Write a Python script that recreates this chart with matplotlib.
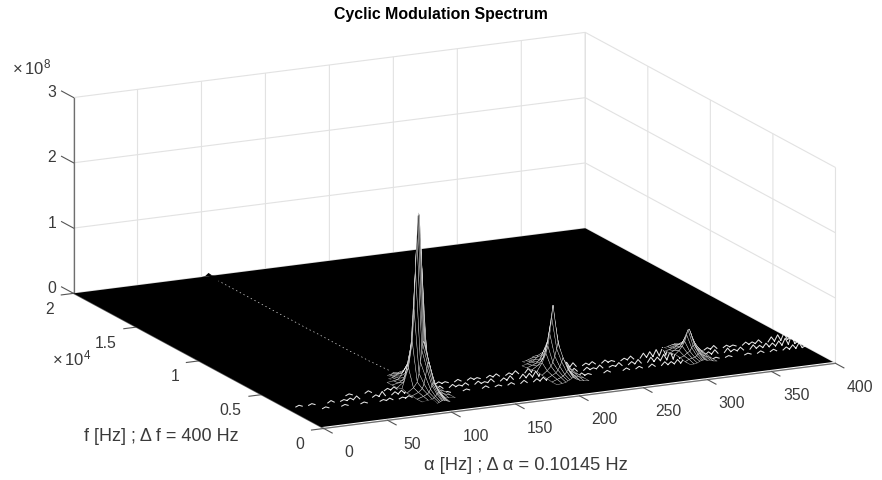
import numpy as np
import matplotlib
matplotlib.use("Agg")
import matplotlib.pyplot as plt
from matplotlib.transforms import ScaledTranslation
from mpl_toolkits.mplot3d.art3d import Poly3DCollection

plt.rcParams['font.family'] = ['Liberation Sans', 'DejaVu Sans']
plt.rcParams['mathtext.fontset'] = 'custom'
plt.rcParams['mathtext.rm'] = 'Liberation Sans'

x_ticks = [0, 50, 100, 150, 200, 250, 300, 350, 400]
y_ticks = [0, 5000, 10000, 15000, 20000]
y_tick_labels = ['0', '0.5', '1', '1.5', '2']
z_ticks = [0, 1, 2, 3]

floor_alpha = [0, 400]
floor_f = [200, 20000]

# spectrum heights are in units of 1e8
peak1_alpha = [92.5, 97.5, 100.5, 101.9, 103, 104.1, 104.8, 105.5, 106.2, 106.9, 108, 109.1, 110.5, 113.5, 118.5]
peak1_f = [5200, 4800, 4400, 4000, 3600, 3200, 2800, 2400, 2000, 1600, 1200]
peak1_z = [
    [.01, .01, .02, .03, .03, .04, .05, .06, .05, .04, .03, .02, .02, .01, .00],
    [.01, .02, .03, .04, .05, .07, .08, .10, .08, .07, .05, .03, .02, .02, .01],
    [.02, .03, .04, .06, .09, .13, .15, .17, .15, .13, .09, .06, .04, .02, .01],
    [.02, .04, .07, .11, .18, .28, .32, .35, .32, .28, .19, .11, .07, .04, .01],
    [.02, .09, .18, .32, .50, .70, .80, .85, .80, .72, .50, .32, .18, .08, .02],
    [.05, .36, .75, 1.25, 1.85, 2.35, 2.66, 2.71, 2.66, 2.35, 1.85, 1.25, .75, .36, .05],
    [.02, .09, .17, .30, .47, .65, .74, .78, .74, .66, .48, .31, .17, .09, .02],
    [.02, .06, .11, .18, .29, .41, .47, .50, .47, .41, .30, .19, .11, .06, .02],
    [.01, .04, .07, .09, .14, .19, .21, .23, .21, .19, .14, .09, .07, .04, .01],
    [.01, .02, .03, .05, .07, .10, .11, .12, .11, .10, .07, .05, .03, .02, .01],
    [.00, .01, .01, .02, .03, .04, .04, .05, .04, .04, .03, .02, .01, .01, .00],
]

peak2_alpha = [198, 202, 205, 206.5, 208, 209.5, 210.5, 211.5, 213, 214.5, 216, 219, 223]
peak2_f = [4800, 4400, 4000, 3600, 3200, 2800, 2400, 2000, 1600]
peak2_z = [
    [.01, .02, .03, .04, .05, .06, .08, .06, .05, .04, .03, .02, .00],
    [.01, .03, .05, .06, .08, .11, .14, .11, .08, .06, .05, .03, .01],
    [.02, .05, .07, .10, .13, .19, .23, .18, .13, .09, .07, .04, .01],
    [.03, .08, .14, .19, .28, .39, .46, .38, .28, .20, .14, .08, .03],
    [.05, .17, .31, .42, .60, .85, 1.03, .84, .60, .43, .30, .17, .05],
    [.03, .09, .15, .21, .30, .41, .49, .40, .31, .22, .15, .09, .03],
    [.02, .06, .09, .13, .18, .25, .31, .24, .19, .13, .09, .06, .02],
    [.01, .04, .06, .08, .10, .14, .17, .14, .10, .08, .06, .04, .01],
    [.01, .02, .03, .05, .06, .08, .09, .08, .06, .05, .03, .02, .01],
]

peak3_alpha = [306, 309, 311.5, 313.5, 315, 316, 317, 318, 319.5, 321.5, 324, 327]
peak3_f = [4400, 4000, 3600, 3200, 2800, 2400, 2000]
peak3_z = [
    [.01, .01, .02, .03, .04, .04, .05, .04, .03, .02, .01, .01],
    [.01, .02, .04, .05, .07, .08, .09, .08, .06, .04, .03, .01],
    [.02, .05, .08, .10, .14, .17, .18, .16, .11, .08, .05, .02],
    [.04, .09, .15, .22, .32, .39, .40, .35, .26, .17, .10, .04],
    [.03, .05, .09, .11, .16, .19, .20, .17, .13, .10, .06, .03],
    [.01, .04, .05, .06, .08, .10, .11, .10, .08, .06, .04, .01],
    [.01, .01, .02, .04, .05, .05, .06, .05, .04, .04, .02, .01],
]

grass_alpha = [0, 5, 10, 15, 20, 25, 30, 35, 40, 45, 50, 55, 60, 65, 70, 75, 80, 85,
               90, 95, 100, 105, 110, 115, 120, 125, 130, 135, 140, 145, 150, 155, 160, 165,
               170, 175, 180, 185, 190, 195, 200, 205, 210, 215, 220, 225, 230, 235, 240, 245,
               250, 255, 260, 265, 270, 275, 280, 285, 290, 295, 300, 305, 310, 315, 320, 325,
               330, 335, 340, 345, 350, 355, 360, 365, 370, 375, 380, 385, 390, 395, 400]
grass_f = [3600, 3000, 2400]
grass_z = [
    [0, 0, 0, 0, 0, 0, 0, 0, 0, 0, 0, .02, 0, 0, .03, 0, 0, .03,
     .04, 0, .05, .07, .05, .04, 0, .03, .02, 0, .03, 0, .03, .02, 0, .03,
     .04, 0, .03, .05, 0, .06, .08, .09, .08, .05, .04, .08, .06, 0, .03, .04,
     0, .04, .02, 0, .03, .05, 0, .07, .08, .10, .12, .13, .14, .12, .09, .05,
     0, .03, .05, 0, .03, .02, 0, .04, .03, .05, 0, .07, .09, .11, .02],
    [0, 0, .02, 0, .02, 0, 0, .03, 0, .02, .03, .05, 0, 0, .03, .07, 0, .04,
     .05, .06, .08, .10, .08, .06, .04, 0, .04, .02, .04, 0, .04, .02, .05, 0,
     .04, .06, 0, .06, .06, .08, .10, .12, .11, .07, .10, .05, 0, .04, .02, .05,
     0, .02, .05, 0, .04, .06, 0, .07, .06, .09, .12, .13, .16, .14, .11, .07,
     .04, .06, 0, .06, .03, .05, 0, .06, .04, .06, .05, .07, .10, .14, .03],
    [0, 0, 0, 0, 0, .02, 0, 0, .02, 0, 0, .02, 0, 0, .02, .03, 0, .02,
     .03, 0, .04, .06, .04, 0, .02, 0, 0, .02, 0, 0, .03, 0, .02, 0,
     .03, 0, .04, 0, .04, .05, .06, .07, .06, .04, 0, .04, .02, 0, 0, .03,
     0, 0, .03, 0, .03, 0, .04, 0, .05, .04, .06, .06, .08, .06, .05, 0,
     .02, 0, .02, 0, 0, .02, 0, .03, 0, .03, 0, .04, .06, .08, .02],
]

ridge_f = [5600, 6400, 7200, 8000, 8800, 9600, 10400, 11200, 12000, 12800,
           13600, 14400, 15200, 16000, 16800, 17600, 18400, 19200]
ridge_alpha = [105.5, 105.5, 105.5, 105.5, 105.5, 105.5, 105.5, 105.5, 105.5, 105.5,
               105.5, 105.5, 105.5, 105.5, 105.5, 105.5, 105.5, 105.5]
ridge_z = [.05, .04, .03, .03, .02, .02, .02, .02, .015, .015,
           .015, .01, .01, .01, .01, .01, .01, .01]

bump_alpha = [100, 103, 105.5, 108, 111]
bump_z = [0, .01, .05, .01, 0]

fig = plt.figure(figsize=(8.82, 4.81), dpi=100)
side = 882 / 481
ax = fig.add_axes([1.6 / 882, -(side - 1) / 2 - 2.85 / 481, 1, side], projection='3d', computed_zorder=False)
ax.set_proj_type('ortho')
ax.view_init(elev=15.2, azim=-115.9)
ax.set_box_aspect((569, 573, 203), zoom=0.9162)
ax.set_xlim(0, 400, view_margin=0)
ax.set_ylim(0, 20000, view_margin=0)
ax.set_zlim(0, 3, view_margin=0)
ax.set_xticks(x_ticks)
ax.set_yticks(y_ticks)
ax.set_yticklabels(y_tick_labels)
ax.set_zticks(z_ticks)

# matlab puts the z ticks along +f
ax.zaxis._get_tickdir = lambda pos: 1

for axis in (ax.xaxis, ax.yaxis, ax.zaxis):
    axis.set_pane_color((1, 1, 1, 1))
    axis.pane.set_edgecolor((1, 1, 1, 0))
    axis.line.set_color('#6e6e6e')
    axis.line.set_linewidth(0.9)
    axis._axinfo['grid'].update(color='#e2e2e2', linewidth=0.8)
ax.xaxis._axinfo['tick'].update(outward_factor=0, inward_factor=0.42)
ax.yaxis._axinfo['tick'].update(outward_factor=0, inward_factor=0.3)
ax.zaxis._axinfo['tick'].update(outward_factor=0.6, inward_factor=0)
ax.tick_params(color='#555555', labelcolor='#3a3a3a', labelsize=11.3, width=0.7)
ax.tick_params(axis='x', pad=6)
ax.tick_params(axis='y', pad=6)
ax.tick_params(axis='z', pad=4)


# mplot3d resets the label transform in get_major_ticks, so nudge the labels there
def nudge_labels(axis, dx, dy, ha='center'):
    orig = axis.get_major_ticks
    offset = ScaledTranslation(dx / 100, -dy / 100, fig.dpi_scale_trans)

    def get_major_ticks(numticks=None):
        ticks = orig(numticks)
        for t in ticks:
            t.label1.set_transform(ax.transData + offset)
            t.label1.set_ha(ha)
        return ticks
    axis.get_major_ticks = get_major_ticks


nudge_labels(ax.xaxis, 14, 1.5)
nudge_labels(ax.yaxis, 2, -3.5, ha='right')
nudge_labels(ax.zaxis, 6, -11)

A, F = np.meshgrid(floor_alpha, floor_f)
ax.plot_surface(A, F, np.zeros_like(A), color='k', shade=False, linewidth=0, zorder=1)


# black quads with white edges, painted back to front so the front rows hide the back ones
def draw_peak(alpha, rows, z, zo):
    z = np.array(z)
    for i in range(len(rows) - 1):
        quads = []
        edges = []
        for j in range(len(alpha) - 1):
            quads.append([(alpha[j], rows[i], z[i, j]), (alpha[j + 1], rows[i], z[i, j + 1]),
                          (alpha[j + 1], rows[i + 1], z[i + 1, j + 1]), (alpha[j], rows[i + 1], z[i + 1, j])])
            top = z[i:i + 2, j:j + 2].max()
            edges.append((1, 1, 1, 0.7) if top >= .04 else (1, 1, 1, 0))
        ax.add_collection3d(Poly3DCollection(quads, facecolors='k', edgecolors=edges, linewidths=0.35,
                                             zorder=zo + i), autolim=False)


ax.plot(ridge_alpha, ridge_f, ridge_z, color='w', lw=0.5, ls=(0, (2, 4)), alpha=0.85, zorder=2)
ax.add_collection3d(Poly3DCollection([[(a, 20000, h) for a, h in zip(bump_alpha, bump_z)]], facecolor='k',
                                     edgecolor='none', zorder=2), autolim=False)

# each grass value is a small tent on the floor
for i, f in enumerate(grass_f):
    xs, zs = [], []
    for a, h in zip(grass_alpha, grass_z[i]):
        if h > 0:
            xs += [a - 2.5, a, a + 2.5, np.nan]
            zs += [0, h, 0, np.nan]
    ax.plot(xs, [f] * len(xs), zs, color='w', lw=0.75, alpha=0.9, zorder=3)

draw_peak(peak3_alpha, peak3_f, peak3_z, 10)
draw_peak(peak2_alpha, peak2_f, peak2_z, 30)
draw_peak(peak1_alpha, peak1_f, peak1_z, 50)

fig.text(441 / 882, 1 - 14.5 / 481, 'Cyclic Modulation Spectrum', fontsize=11.45, fontweight='bold',
         color='k', ha='center', va='center')
fig.text(12 / 882, 1 - 67 / 481, r'$\times\,\mathregular{10^8}$', fontsize=12, color='#3a3a3a', va='center')
fig.text(52 / 882, 1 - 358 / 481, r'$\times\,\mathregular{10^4}$', fontsize=12, color='#3a3a3a', va='center')
fig.text(526 / 882, 1 - 466 / 481, 'α [Hz] ; Δ α = 0.10145 Hz', fontsize=13.2, color='#3a3a3a',
         ha='center', va='center')
fig.text(161 / 882, 1 - 437 / 481, 'f [Hz] ; Δ f = 400 Hz', fontsize=13, color='#3a3a3a',
         ha='center', va='center')

fig.savefig("out.png", dpi=100)
